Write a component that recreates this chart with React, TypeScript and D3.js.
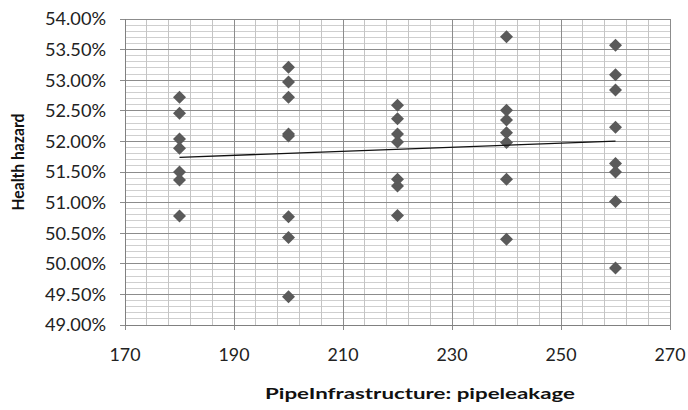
import React from 'react';
import * as d3 from 'd3';

// pipe leakage categories and health hazard readings (fractions)
const leakageLevels = [180, 200, 220, 240, 260];
const hazardAt180 = [0.5272, 0.5246, 0.5204, 0.5189, 0.515, 0.5137, 0.5078];
const hazardAt200 = [0.5321, 0.5297, 0.5272, 0.5212, 0.5209, 0.5077, 0.5043, 0.4946];
const hazardAt220 = [0.5259, 0.5237, 0.5212, 0.5199, 0.5138, 0.5127, 0.5079];
const hazardAt240 = [0.5371, 0.5251, 0.5235, 0.5214, 0.5198, 0.5138, 0.504];
const hazardAt260 = [0.5357, 0.5309, 0.5284, 0.5223, 0.5164, 0.515, 0.5102, 0.4993];
const hazardGroups = [hazardAt180, hazardAt200, hazardAt220, hazardAt240, hazardAt260];

const xTicks = [170, 190, 210, 230, 250, 270];
const yTicks = [0.49, 0.495, 0.5, 0.505, 0.51, 0.515, 0.52, 0.525, 0.53, 0.535, 0.54];

const W = 688;
const H = 410;
const margin = { left: 125, right: 18, top: 19, bottom: 85 };

const points = leakageLevels.flatMap((x, i) => hazardGroups[i].map((y) => ({ x, y })));

// least squares trend line
const mx = d3.mean(points, (d) => d.x) as number;
const my = d3.mean(points, (d) => d.y) as number;
const slope =
  (d3.sum(points, (d) => (d.x - mx) * (d.y - my)) as number) /
  (d3.sum(points, (d) => (d.x - mx) * (d.x - mx)) as number);
const intercept = my - slope * mx;

const font = 'Lato, "Liberation Sans", sans-serif';

export default function App() {
  const x = d3.scaleLinear().domain([170, 270]).range([margin.left, W - margin.right]);
  const y = d3.scaleLinear().domain([0.49, 0.54]).range([H - margin.bottom, margin.top]);
  const fmt = d3.format('.2%');

  const xMinor = d3.range(170, 270.1, 4);
  const yMinor = d3.range(0.49, 0.5401, 0.001);

  const x0 = d3.min(leakageLevels) as number;
  const x1 = d3.max(leakageLevels) as number;
  const trend = d3.line<number>()
    .x((d) => x(d))
    .y((d) => y(intercept + slope * d))([x0, x1]);

  const diamond = (cx: number, cy: number) => {
    const r = 6.5;
    return `M${cx},${cy - r}L${cx + r},${cy}L${cx},${cy + r}L${cx - r},${cy}Z`;
  };

  const [xl, xr] = x.range();
  const [yb, yt] = y.range();

  return (
    <svg width={W} height={H} style={{ position: 'absolute', left: 0, top: 0, background: '#fff' }}>
      <g shapeRendering="crispEdges">
        {yMinor.map((v, i) => (
          <line key={'ym' + i} x1={xl} x2={xr} y1={y(v)} y2={y(v)} stroke="#cfcfcf" strokeWidth={1} />
        ))}
        {xMinor.map((v, i) => (
          <line key={'xm' + i} x1={x(v)} x2={x(v)} y1={yt} y2={yb} stroke="#c4c4c4" strokeWidth={1} />
        ))}
        {yTicks.map((v, i) => (
          <line key={'yM' + i} x1={xl - 5} x2={xr} y1={y(v)} y2={y(v)} stroke="#8c8c8c" strokeWidth={1} />
        ))}
        {xTicks.map((v, i) => (
          <line key={'xM' + i} x1={x(v)} x2={x(v)} y1={yt} y2={yb + 5} stroke="#8c8c8c" strokeWidth={1} />
        ))}
        <line x1={xl} x2={xl} y1={yt} y2={yb} stroke="#808080" />
        <line x1={xl} x2={xr} y1={yb} y2={yb} stroke="#808080" />
      </g>

      {points.map((d, i) => (
        <path key={'p' + i} d={diamond(x(d.x), y(d.y))} fill="#5a5a5a" />
      ))}

      <path d={trend || ''} stroke="#111" strokeWidth={1.3} fill="none" />

      {yTicks.map((v, i) => (
        <text key={'yt' + i} x={xl - 19} y={y(v)} dy="0.36em" textAnchor="end"
          fontFamily={font} fontSize={17.5} fill="#222" textLength={61} lengthAdjust="spacingAndGlyphs">
          {fmt(v)}
        </text>
      ))}
      {xTicks.map((v, i) => (
        <text key={'xt' + i} x={x(v)} y={361} textAnchor="middle"
          fontFamily={font} fontSize={17.5} fill="#222" textLength={31} lengthAdjust="spacingAndGlyphs">
          {v}
        </text>
      ))}
      <text x={420} y={399} textAnchor="middle" fontFamily={font} fontSize={16} fontWeight="bold" fill="#111"
        textLength={310} lengthAdjust="spacingAndGlyphs">
        PipeInfrastructure: pipeleakage
      </text>
      <text transform="translate(24,162) rotate(-90)" textAnchor="middle" fontFamily={font}
        fontSize={17} fontWeight="bold" fill="#111" textLength={97} lengthAdjust="spacingAndGlyphs">
        Health hazard
      </text>
    </svg>
  );
}
